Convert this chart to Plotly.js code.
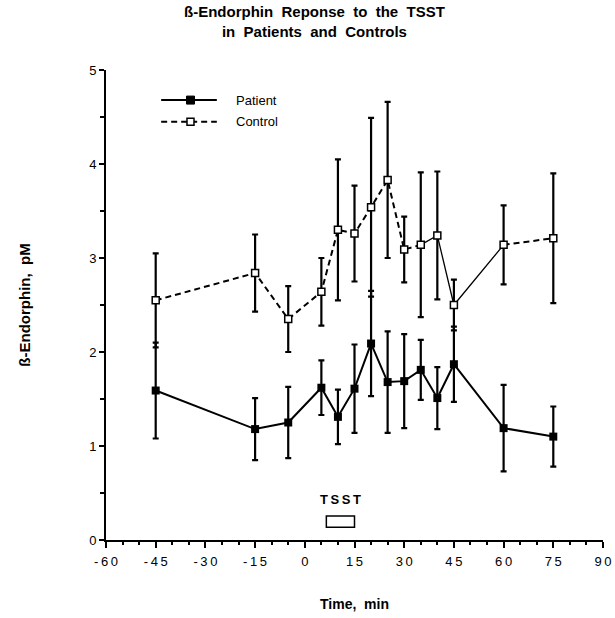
<!DOCTYPE html>
<html>
<head>
<meta charset="utf-8">
<script src="https://cdn.plot.ly/plotly-3.0.1.min.js"></script>
<style>html,body{margin:0;padding:0;background:#fff;}#chart{width:615px;height:618px;}</style>
</head>
<body>
<div id="chart"></div>
<script>
// Time points (min)
const times = [-45, -15, -5, 5, 10, 15, 20, 25, 30, 35, 40, 45, 60, 75];
// Patient beta-endorphin (pM) and SE
const patient = [1.59, 1.18, 1.25, 1.62, 1.31, 1.61, 2.09, 1.68, 1.69, 1.81, 1.51, 1.87, 1.19, 1.10];
const patientSE = [0.51, 0.33, 0.38, 0.29, 0.29, 0.47, 0.56, 0.54, 0.50, 0.32, 0.33, 0.40, 0.46, 0.32];
// Control beta-endorphin (pM) and SE
const control = [2.55, 2.84, 2.35, 2.64, 3.30, 3.26, 3.54, 3.83, 3.09, 3.14, 3.24, 2.50, 3.14, 3.21];
const controlSE = [0.50, 0.41, 0.35, 0.36, 0.75, 0.51, 0.95, 0.83, 0.35, 0.77, 0.68, 0.27, 0.42, 0.69];
// Axis ticks
const xTickVals = [-60, -45, -30, -15, 0, 15, 30, 45, 60, 75, 90];
const xTickText = ['-\u20096\u20090', '-\u20094\u20095', '-\u20093\u20090', '-\u20091\u20095', '0', '1\u20095', '3\u20090', '4\u20095', '6\u20090', '7\u20095', '9\u20090'];
const yTickVals = [0, 1, 2, 3, 4, 5];
// TSST period
const tsstStart = 6.5, tsstEnd = 15;

const FONT = 'Liberation Sans, Arial, Helvetica, sans-serif';

const errStyle = (arr) => ({type: 'data', array: arr, visible: true, color: '#000', thickness: 2.2, width: 3});

const traces = [
  {x: times.slice(0, 10), y: control.slice(0, 10), mode: 'lines', line: {color: '#000', width: 2, dash: '6px,4px'}, hoverinfo: 'skip'},
  {x: times.slice(9, 13), y: control.slice(9, 13), mode: 'lines', line: {color: '#000', width: 1.3}, hoverinfo: 'skip'},
  {x: times.slice(12), y: control.slice(12), mode: 'lines', line: {color: '#000', width: 2, dash: '6px,4px'}, hoverinfo: 'skip'},
  {x: times, y: control, name: 'Control', mode: 'markers', error_y: errStyle(controlSE),
   marker: {symbol: 'square', size: 7, color: '#fff', line: {color: '#000', width: 1.5}}, cliponaxis: false},
  {x: times, y: patient, name: 'Patient', mode: 'lines+markers', error_y: errStyle(patientSE),
   line: {color: '#000', width: 2}, marker: {symbol: 'square', size: 8, color: '#000'}, cliponaxis: false}
];

const layout = {
  width: 615, height: 618,
  margin: {l: 106, r: 12, t: 70, b: 78},
  paper_bgcolor: '#fff', plot_bgcolor: '#fff',
  showlegend: false,
  font: {family: FONT, color: '#000', size: 12},
  xaxis: {range: [-60, 90], tickvals: xTickVals, ticktext: xTickText, ticks: 'outside', ticklen: 6, tickwidth: 2,
          tickcolor: '#000', showline: true, linecolor: '#000', linewidth: 2, showgrid: false, zeroline: false,
          minor: {dtick: 5, tick0: 0, ticks: 'outside', ticklen: 3, tickwidth: 2, tickcolor: '#000'},
          tickfont: {family: FONT, size: 13, color: '#000'}, ticklabelstandoff: 2,
          title: {text: '<b>Time,  min</b>', font: {family: FONT, size: 14, color: '#000'}, standoff: 32}},
  yaxis: {range: [0, 5], tickvals: yTickVals, ticks: 'outside', ticklen: 5, tickwidth: 2,
          tickcolor: '#000', showline: true, linecolor: '#000', linewidth: 2, showgrid: false, zeroline: false,
          minor: {dtick: 0.5, tick0: 0, ticks: 'outside', ticklen: 4, tickwidth: 1.5, tickcolor: '#000'},
          tickfont: {family: FONT, size: 13, color: '#000'},
          title: {text: '<b>ß-Endorphin,  pM</b>', font: {family: FONT, size: 15, color: '#000'}, standoff: 55}},
  shapes: [
    {type: 'rect', xref: 'x', yref: 'y', x0: tsstStart, x1: tsstEnd, y0: 0.135, y1: 0.255, line: {color: '#000', width: 1.5}, fillcolor: '#fff'},
    // legend
    {type: 'line', xref: 'paper', yref: 'paper', x0: 0.111, x1: 0.223, y0: 0.936, y1: 0.936, line: {color: '#000', width: 2}},
    {type: 'rect', xref: 'paper', yref: 'paper', xsizemode: 'pixel', ysizemode: 'pixel', xanchor: 0.170, yanchor: 0.936,
     x0: -4, x1: 4, y0: -4, y1: 4, line: {color: '#000', width: 1}, fillcolor: '#000'},
    {type: 'line', xref: 'paper', yref: 'paper', x0: 0.111, x1: 0.223, y0: 0.890, y1: 0.890, line: {color: '#000', width: 2, dash: '6px,4px'}},
    {type: 'rect', xref: 'paper', yref: 'paper', xsizemode: 'pixel', ysizemode: 'pixel', xanchor: 0.170, yanchor: 0.890,
     x0: -3.5, x1: 3.5, y0: -3.5, y1: 3.5, line: {color: '#000', width: 1.5}, fillcolor: '#fff'}
  ],
  annotations: [
    {text: '<b>ß-Endorphin  Reponse  to  the  TSST<br>in  Patients  and  Controls</b>', xref: 'paper', yref: 'paper',
     x: 0.419, y: 1.103, xanchor: 'center', yanchor: 'middle', showarrow: false,
     font: {family: FONT, size: 15, color: '#000'}},
    {text: '<b>T S S T</b>'.replace(/ /g, '\u2009'), xref: 'x', yref: 'y', x: (tsstStart + tsstEnd) / 2, y: 0.435, showarrow: false,
     font: {family: FONT, size: 13, color: '#000'}},
    {text: 'Patient', xref: 'paper', yref: 'paper', x: 0.258, y: 0.936, xanchor: 'left', yanchor: 'middle', showarrow: false,
     font: {family: FONT, size: 13, color: '#000'}},
    {text: 'Control', xref: 'paper', yref: 'paper', x: 0.258, y: 0.890, xanchor: 'left', yanchor: 'middle', showarrow: false,
     font: {family: FONT, size: 13, color: '#000'}}
  ]
};

Plotly.newPlot('chart', traces, layout, {displayModeBar: false, staticPlot: true});
</script>
</body>
</html>
